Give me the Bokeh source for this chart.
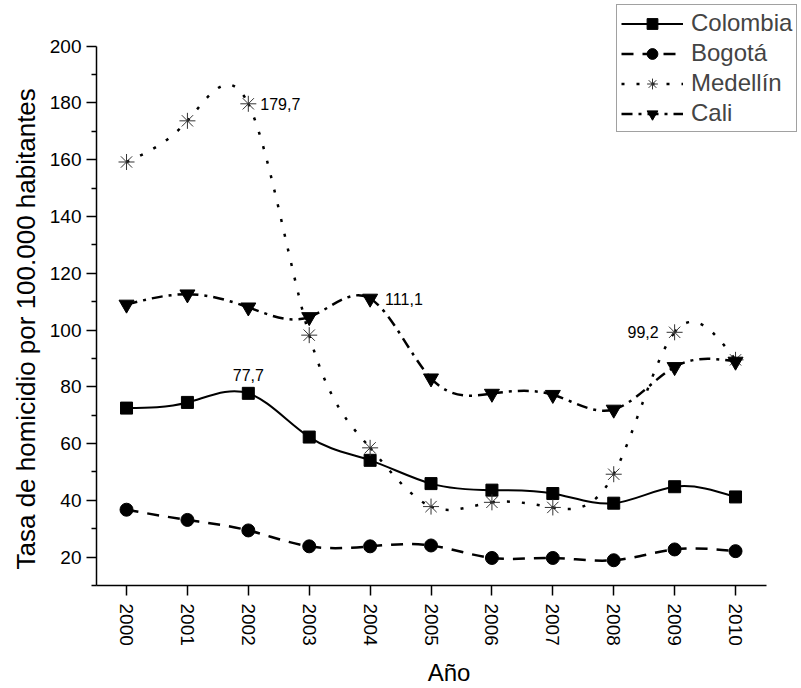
import numpy as np
from bokeh.plotting import figure
from bokeh.models import Range1d, FixedTicker, Legend, LegendItem, ColumnDataSource, Title
from bokeh.core.properties import value
from bokeh.embed import file_html
from bokeh.resources import INLINE

# ---------------- data ----------------
years = [2000, 2001, 2002, 2003, 2004, 2005, 2006, 2007, 2008, 2009, 2010]
colombia = [72.5, 74.5, 77.7, 62.3, 54.1, 45.9, 43.6, 42.4, 39.0, 44.8, 41.2]
bogota = [36.7, 33.1, 29.4, 23.8, 23.8, 24.1, 19.7, 19.7, 18.9, 22.7, 22.1]
medellin = [159.2, 173.7, 179.7, 98.2, 58.5, 37.8, 39.3, 37.5, 49.2, 99.2, 89.5]
cali = [109.0, 112.6, 108.0, 104.6, 111.1, 83.0, 77.6, 77.2, 72.0, 87.0, 88.9]
series_names = ["Colombia", "Bogotá", "Medellín", "Cali"]
y_ticks = [20, 40, 60, 80, 100, 120, 140, 160, 180, 200]
y_minor = [10, 30, 50, 70, 90, 110, 130, 150, 170, 190]
x_title = "Año"
y_title = "Tasa de homicidio por 100.000 habitantes"

FONT = value("Liberation Sans")

W, H = 801, 688
FRAME_L, FRAME_B = 96, 99          # borders (px) left / bottom
Y_LO, Y_HI = 10, 200               # drawn axis extent
X_LO, X_HI = 1999.507, 2010.51
PX_PER_Y = 543 / (Y_HI - Y_LO)     # px per data unit
PX_PER_X = 60.9


def spline_segments(xs, ys):
    """Natural cubic spline through the data, expressed as Bezier segments."""
    x = np.asarray(xs, float)
    y = np.asarray(ys, float)
    n = len(x)
    h = np.diff(x)
    A = np.zeros((n, n))
    r = np.zeros(n)
    A[0, 0] = A[-1, -1] = 1.0
    for i in range(1, n - 1):
        A[i, i - 1] = h[i - 1]
        A[i, i] = 2 * (h[i - 1] + h[i])
        A[i, i + 1] = h[i]
        r[i] = 6 * ((y[i + 1] - y[i]) / h[i] - (y[i] - y[i - 1]) / h[i - 1])
    M = np.linalg.solve(A, r)
    s = (y[1:] - y[:-1]) / h
    d0 = s - h * (2 * M[:-1] + M[1:]) / 6
    d1 = s + h * (M[:-1] + 2 * M[1:]) / 6
    return ColumnDataSource(dict(
        x0=x[:-1], y0=y[:-1], x1=x[1:], y1=y[1:],
        cx0=x[:-1] + h / 3, cy0=y[:-1] + d0 * h / 3,
        cx1=x[1:] - h / 3, cy1=y[1:] - d1 * h / 3,
    ))


frame_h = H - FRAME_B
frame_w = W - FRAME_L
p = figure(
    width=W, height=H,
    output_backend="svg", toolbar_location=None,
    x_range=Range1d(X_LO, X_LO + frame_w / PX_PER_X),
    y_range=Range1d(Y_LO, Y_LO + frame_h / PX_PER_Y),
    min_border_left=FRAME_L, min_border_right=0, min_border_top=0,
    min_border_bottom=FRAME_B,
)
p.outline_line_color = None
p.xgrid.visible = False
p.ygrid.visible = False
p.background_fill_color = "white"

styles = [
    dict(data=colombia, dash="solid", width=2.0, marker="square", size=12,
         fill="black", line="black", mlw=1),
    dict(data=bogota, dash="12 9", width=2.5, marker="circle", size=13,
         fill="black", line="black", mlw=1),
    dict(data=medellin, dash="3 12", width=2.5, marker="asterisk", size=16,
         fill=None, line="#333333", mlw=1),
    dict(data=cali, dash="11 6 3 6", width=2.5, marker="inverted_triangle", size=15,
         fill="black", line="black", mlw=1),
]

items = []
for name, st in zip(series_names, styles):
    src = spline_segments(years, st["data"])
    p.bezier(x0="x0", y0="y0", x1="x1", y1="y1", cx0="cx0", cy0="cy0",
             cx1="cx1", cy1="cy1", source=src, line_color="black",
             line_width=st["width"], line_dash=st["dash"])
    leg_line = p.line(years, st["data"], line_color="black", line_width=st["width"],
                      line_dash=st["dash"], visible=False)
    sc = p.scatter(years, st["data"], marker=st["marker"], size=st["size"],
                   fill_color=st["fill"], line_color=st["line"], line_width=st["mlw"])
    items.append(LegendItem(label=name, renderers=[leg_line, sc]))


def fmt(v):
    return f"{v:.1f}".replace(".", ",")


p.text(x=[years[2]], y=[medellin[2]], text=[fmt(medellin[2])], x_offset=12,
       text_align="left", text_baseline="middle", text_font=FONT,
       text_font_size="16px", text_color="black")
p.text(x=[years[4]], y=[cali[4]], text=[fmt(cali[4])], x_offset=15,
       text_align="left", text_baseline="middle", text_font=FONT,
       text_font_size="16px", text_color="black")
p.text(x=[years[2]], y=[colombia[2]], text=[fmt(colombia[2])], y_offset=-18,
       text_align="center", text_baseline="middle", text_font=FONT,
       text_font_size="16px", text_color="black")
p.text(x=[years[9]], y=[medellin[9]], text=[fmt(medellin[9])], x_offset=-16,
       text_align="right", text_baseline="middle", text_font=FONT,
       text_font_size="16px", text_color="black")

# axes
for ax in (p.xaxis[0], p.yaxis[0]):
    ax.axis_line_color = "black"
    ax.axis_line_width = 1.5
    ax.major_tick_line_color = "black"
    ax.major_tick_line_width = 1.5
    ax.major_tick_in = 0
    ax.major_tick_out = 10
    ax.minor_tick_in = 0
    ax.minor_tick_out = 5
    ax.minor_tick_line_width = 1.5
    ax.minor_tick_line_color = "black"
    ax.major_label_text_font = "Liberation Sans"
    ax.major_label_text_font_size = "19px"
    ax.major_label_text_color = "black"
    ax.axis_label_text_font = "Liberation Sans"
    ax.axis_label_text_font_style = "normal"
    ax.axis_label_text_color = "black"

p.xaxis.bounds = (X_LO, X_HI)
p.xaxis.ticker = FixedTicker(ticks=years)
p.xaxis.minor_tick_line_color = None
p.xaxis.major_label_orientation = "vertical"
p.xaxis.major_label_standoff = 8
p.xaxis.axis_label = x_title
p.xaxis.axis_label_text_font_size = "24px"
p.xaxis.axis_label_standoff = 10

p.yaxis.bounds = (Y_LO, Y_HI)
p.yaxis.ticker = FixedTicker(ticks=y_ticks, minor_ticks=y_minor)
p.yaxis.major_label_standoff = 5

# y-axis title as a side title so it can be anchored near the bottom of the axis
ytitle = Title(text=y_title, align="left", offset=16, standoff=12,
               text_font="Liberation Sans", text_font_size="26px",
               text_font_style="normal", text_color="black")
p.add_layout(ytitle, "left")

legend = Legend(
    items=items, location=(520, 453),
    label_text_font="Liberation Sans", label_text_font_size="24px",
    glyph_width=62, glyph_height=27, label_height=27, spacing=2,
    padding=4, margin=0, label_standoff=8,
    border_line_color="#444444", border_line_width=1.5,
    background_fill_color="white", background_fill_alpha=1.0,
)
p.add_layout(legend)

open("out.html", "w").write(file_html(p, INLINE))
